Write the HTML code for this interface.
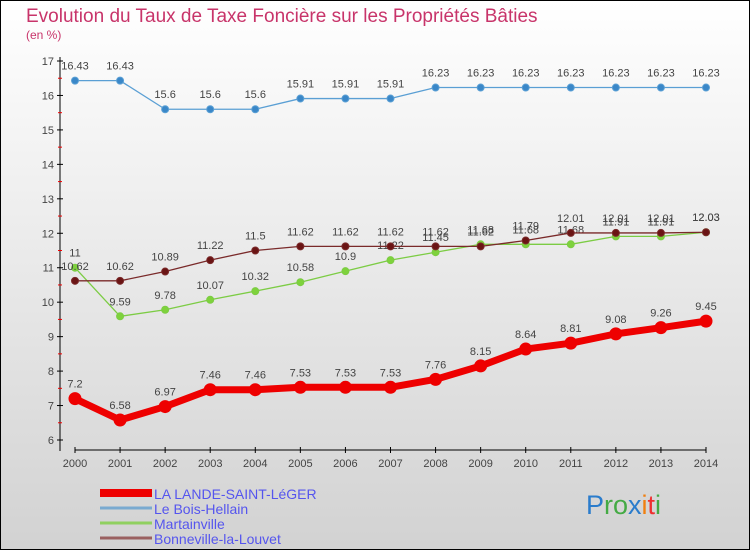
<!DOCTYPE html>
<html><head><meta charset="utf-8"><style>
body{margin:0;}
#c{width:750px;height:550px;position:relative;box-sizing:border-box;border:1px solid #000;background:linear-gradient(#ffffff,#d2d2d2);font-family:"Liberation Sans",sans-serif;overflow:hidden}
</style></head><body>
<div id="c">
<svg id="s" width="750" height="550" style="position:absolute;left:-1px;top:-1px">
<text x="26" y="22" font-size="19" fill="#c8346a">Evolution du Taux de Taxe Foncière sur les Propriétés Bâties</text>
<text x="26" y="39" font-size="12" fill="#c8346a">(en %)</text>
</svg>
</div>
<script>
const years=[2000,2001,2002,2003,2004,2005,2006,2007,2008,2009,2010,2011,2012,2013,2014];
const lande=[7.2,6.58,6.97,7.46,7.46,7.53,7.53,7.53,7.76,8.15,8.64,8.81,9.08,9.26,9.45];
const bois=[16.43,16.43,15.6,15.6,15.6,15.91,15.91,15.91,16.23,16.23,16.23,16.23,16.23,16.23,16.23];
const martainville=[11,9.59,9.78,10.07,10.32,10.58,10.9,11.22,11.45,11.68,11.68,11.68,11.91,11.91,12.03];
const bonneville=[10.62,10.62,10.89,11.22,11.5,11.62,11.62,11.62,11.62,11.62,11.79,12.01,12.01,12.01,12.03];
const yTicks=[6,7,8,9,10,11,12,13,14,15,16,17];
const seriesNames=["LA LANDE-SAINT-LéGER","Le Bois-Hellain","Martainville","Bonneville-la-Louvet"];
const svg=document.getElementById('s');const NS="http://www.w3.org/2000/svg";
const X=i=>75+i*(706-75)/(years.length-1);
const Y=v=>440-(v-6)*(440-61)/11;
function mk(t,a,p){const e=document.createElementNS(NS,t);for(const k in a)e.setAttribute(k,a[k]);(p||svg).appendChild(e);return e;}
const ax=mk('line',{x1:60,y1:57,x2:60,y2:451,stroke:'#000'});


const xa=mk('line',{x1:75,y1:450,x2:706,y2:450,stroke:'#000'});


yTicks.forEach(v=>{mk('line',{x1:57,x2:63,y1:Y(v),y2:Y(v),stroke:'#000'});
if(v<17)mk('line',{x1:58,x2:62,y1:Y(v+0.5),y2:Y(v+0.5),stroke:'#e00'});
const t=mk('text',{x:54,y:Y(v)+4,'font-size':11,fill:'#444','text-anchor':'end'});t.textContent=v;

});
years.forEach((y,i)=>{mk('line',{x1:X(i),x2:X(i),y1:447,y2:453,stroke:'#000'});
const t=mk('text',{x:X(i),y:467,'font-size':11,fill:'#444','text-anchor':'middle'});t.textContent=y;

});
function series(data,color,dot,w,r,name){
const g=mk('g',{});


mk('polyline',{points:data.map((v,i)=>X(i)+','+Y(v)).join(' '),fill:'none',stroke:color,'stroke-width':w,'stroke-linejoin':'round'},g);
data.forEach((v,i)=>{const c=mk('circle',{cx:X(i),cy:Y(v),r:r,fill:dot,stroke:color},g);


const t=mk('text',{x:X(i),y:Y(v)-11,'font-size':11,fill:'#444','text-anchor':'middle'},g);t.textContent=v;

});}
series(bois,'#5a9fd4','#3a87c8',1.3,3.5,'series-bois-hellain');
series(martainville,'#7ccc44','#7ed23c',1.3,3.5,'series-martainville');
series(bonneville,'#7a2a2a','#6a1414',1.3,3.5,'series-bonneville');
series(lande,'#ee0000','#ee0000',7,6,'series-lande');
const cols=['#ee0000','#7aaad0','#90d060','#9a6060'];const ws=[8,3,3,3];
seriesNames.forEach((n,i)=>{const y=493+i*15;
const l=mk('line',{x1:100,x2:152,y1:y,y2:y,stroke:cols[i],'stroke-width':ws[i]});


const t=mk('text',{x:154,y:y+6,'font-size':14,fill:'#5555ee'});t.textContent=n;

});
const lg=mk('text',{x:586,y:514,'font-size':27});


[['P','#2a7ccc'],['ro','#44aa44'],['x','#2a7ccc'],['i','#f07f10'],['t','#ee3030'],['i','#44aa44']].forEach(([s,c])=>{const sp=mk('tspan',{fill:c},lg);sp.textContent=s;});
</script>
</body></html>
